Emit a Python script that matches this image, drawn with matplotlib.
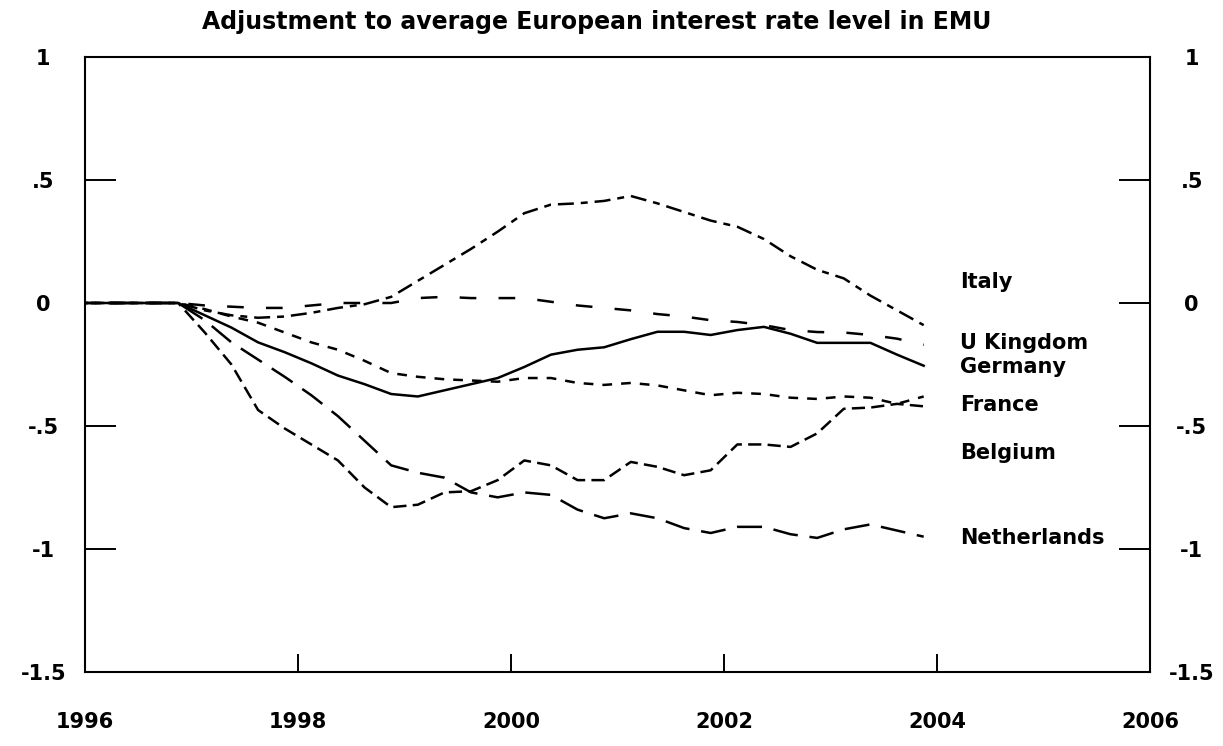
import numpy as np
import matplotlib as mpl
import matplotlib.pyplot as plt
mpl.use("Agg")

plt.rcParams["font.family"] = ["DejaVu Sans"]
plt.rcParams["font.weight"] = "bold"
plt.rcParams["lines.scale_dashes"] = False

# quarterly observations, 1996Q1 .. 2003Q4 (first point sits just left of the axis)
t = 1995.875 + 0.25 * np.arange(33)

pre = [0.0, 0.0, 0.0, 0.0]
italy = pre + [0.0, -0.03, -0.05, -0.06, -0.055, -0.04, -0.02, -0.005, 0.025, 0.09,
               0.155, 0.22, 0.29, 0.365, 0.40, 0.405, 0.415, 0.435, 0.405, 0.37,
               0.335, 0.31, 0.26, 0.19, 0.135, 0.10, 0.03, -0.03, -0.09]
ukingdom = pre + [0.0, -0.01, -0.015, -0.02, -0.02, -0.01, 0.0, 0.0, 0.0, 0.02,
                  0.025, 0.02, 0.02, 0.02, 0.005, -0.01, -0.02, -0.03, -0.045, -0.055,
                  -0.07, -0.077, -0.09, -0.11, -0.118, -0.12, -0.13, -0.145, -0.17]
germany = pre + [0.0, -0.05, -0.10, -0.16, -0.20, -0.245, -0.295, -0.33, -0.37, -0.38,
                 -0.355, -0.33, -0.305, -0.26, -0.21, -0.19, -0.18, -0.147, -0.117, -0.117,
                 -0.13, -0.11, -0.097, -0.125, -0.162, -0.162, -0.162, -0.21, -0.255]
france = pre + [0.0, -0.025, -0.055, -0.08, -0.12, -0.16, -0.19, -0.235, -0.285, -0.30,
                -0.31, -0.315, -0.32, -0.305, -0.305, -0.325, -0.333, -0.325, -0.335, -0.355,
                -0.375, -0.365, -0.37, -0.385, -0.39, -0.38, -0.385, -0.41, -0.38]
belgium = pre + [0.0, -0.12, -0.25, -0.435, -0.51, -0.575, -0.64, -0.75, -0.83, -0.82,
                 -0.77, -0.765, -0.72, -0.64, -0.66, -0.72, -0.72, -0.646, -0.666, -0.70,
                 -0.68, -0.575, -0.575, -0.585, -0.53, -0.43, -0.425, -0.41, -0.42]
netherlands = pre + [0.0, -0.07, -0.16, -0.23, -0.30, -0.375, -0.46, -0.56, -0.66, -0.69,
                     -0.71, -0.77, -0.79, -0.77, -0.78, -0.84, -0.875, -0.855, -0.875, -0.915,
                     -0.935, -0.91, -0.91, -0.94, -0.955, -0.92, -0.90, -0.925, -0.95]

names = ["Italy", "U Kingdom", "Germany", "France", "Belgium", "Netherlands"]
label_y = [0.085, -0.163, -0.26, -0.415, -0.61, -0.955]

yticks = [1, 0.5, 0, -0.5, -1, -1.5]
ytick_labels = ["1", ".5", "0", "-.5", "-1", "-1.5"]
xticks = [1996, 1998, 2000, 2002, 2004, 2006]
xtick_labels = ["1996", "1998", "2000", "2002", "2004", "2006"]

fig = plt.figure(figsize = (12.23, 7.46), dpi = 100)
ax = fig.add_axes([85 / 1223, 1 - 672 / 746, 1065 / 1223, 615 / 746])

lw = 1.8
ax.plot(t, italy, color = "black", linewidth = lw, dashes = (11.5, 5, 5, 5))
ax.plot(t, ukingdom, color = "black", linewidth = lw, dashes = (12, 16))
ax.plot(t, germany, color = "black", linewidth = lw)
ax.plot(t, france, color = "black", linewidth = lw, dashes = (7, 6.5))
ax.plot(t, belgium, color = "black", linewidth = lw, dashes = (9.5, 4.5))
ax.plot(t, netherlands, color = "black", linewidth = lw, dashes = (18, 8.5))

for name, yl in zip(names, label_y):
    ax.text(2004.22, yl, name, fontsize = 15, fontweight = "bold", va = "center", ha = "left")

ax.set_xlim(1996, 2006)
ax.set_ylim(-1.5, 1)

ax.set_xticks(xticks)
ax.set_xticklabels(xtick_labels)
ax.set_yticks(yticks)
ax.set_yticklabels(ytick_labels)

for s in ax.spines.values():
    s.set_linewidth(1.5)

ax.tick_params(axis = "y", direction = "in", length = 22, width = 1.4, left = True, right = True,
               labelleft = True, labelright = True, labelsize = 15, pad = 30)
ax.tick_params(axis = "x", direction = "in", length = 13, width = 1.4, top = False,
               labelsize = 15, pad = 29)
for tick in ax.yaxis.get_major_ticks():
    tick.label1.set_horizontalalignment("center")
    tick.label2.set_horizontalalignment("center")

fig.text(597 / 1223, 1 - 22 / 746, "Adjustment to average European interest rate level in EMU",
         fontsize = 17, fontweight = "bold", ha = "center", va = "center")

plt.savefig("out.png", dpi = 100)
plt.close(fig)
